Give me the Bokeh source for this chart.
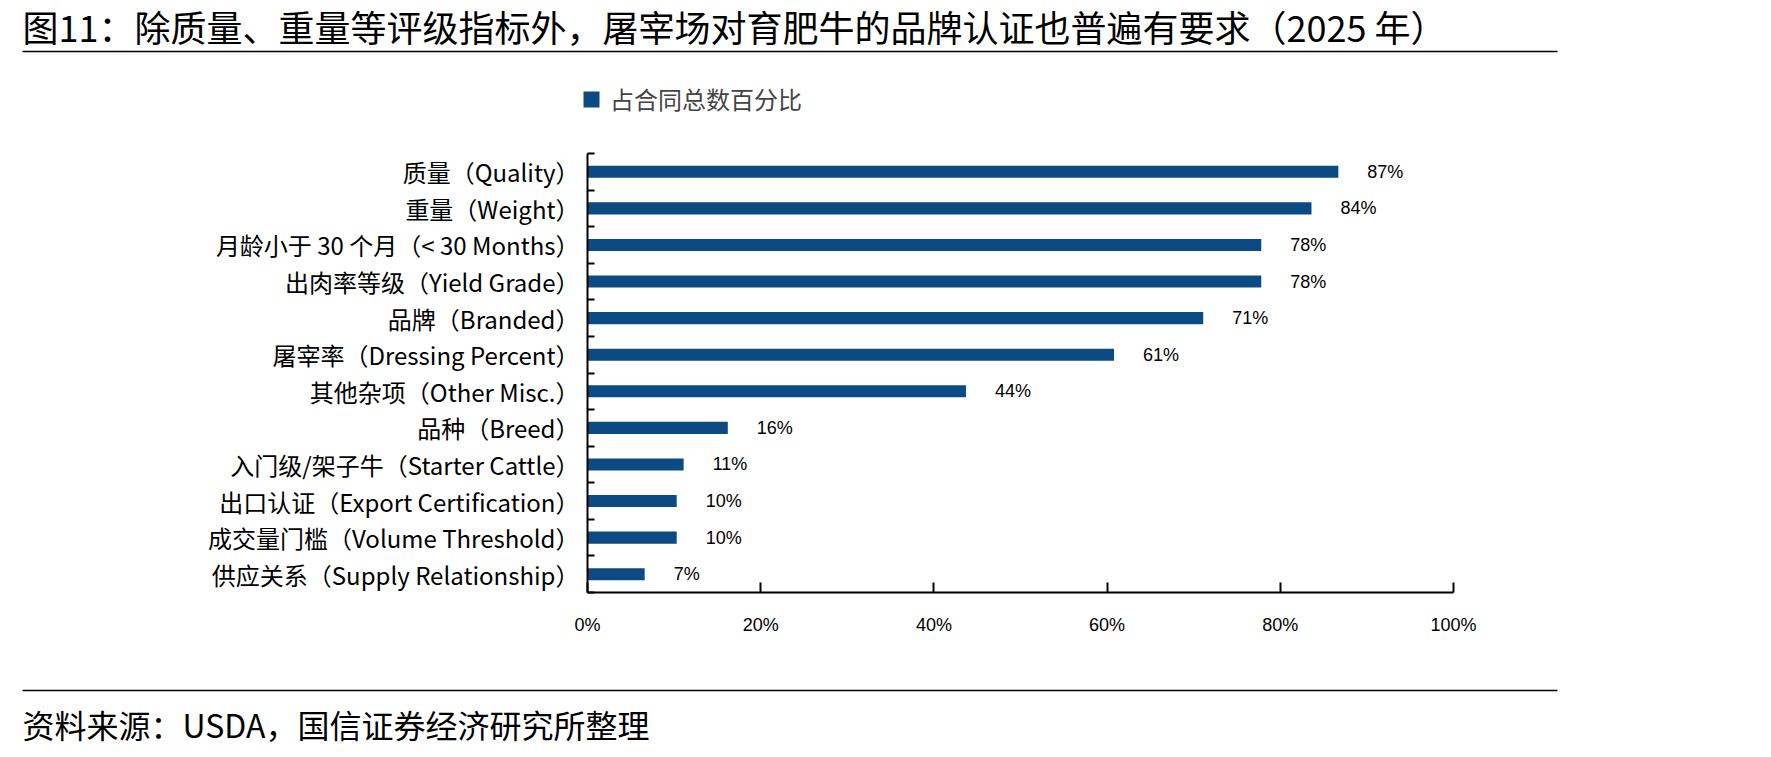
from bokeh.plotting import figure
from bokeh.layouts import column
from bokeh.models import Range1d, FixedTicker, ColumnDataSource, Legend, LegendItem
from bokeh.core.properties import value
from bokeh.embed import file_html
from bokeh.resources import INLINE

# ---------------- data ----------------
categories = [
    "质量（Quality）",
    "重量（Weight）",
    "月龄小于 30 个月（< 30 Months）",
    "出肉率等级（Yield Grade）",
    "品牌（Branded）",
    "屠宰率（Dressing Percent）",
    "其他杂项（Other Misc.）",
    "品种（Breed）",
    "入门级/架子牛（Starter Cattle）",
    "出口认证（Export Certification）",
    "成交量门槛（Volume Threshold）",
    "供应关系（Supply Relationship）",
]
share_pct = [86.7, 83.6, 77.8, 77.8, 71.1, 60.8, 43.7, 16.2, 11.1, 10.3, 10.3, 6.6]
x_ticks = [0, 20, 40, 60, 80, 100]
x_tick_labels = ["0%", "20%", "40%", "60%", "80%", "100%"]
series_name = "占合同总数百分比"
title_text = "图11：除质量、重量等评级指标外，屠宰场对育肥牛的品牌认证也普遍有要求（2025 年）"
source_text = "资料来源：USDA，国信证券经济研究所整理"

# ---------------- layout constants ----------------
W = 1771
TOP_H = 140          # title band (title, rule, legend)
MAIN_H = 540         # chart band
BOT_H = 77           # source band
FL, FR = 587, 1453   # frame left/right pixels
FT, FB = 153, 592    # frame top/bottom pixels (page coordinates)
RULE_L, RULE_R = 22, 1557
BAR_COLOR = "#0B4A82"
CJK = "Noto Sans CJK SC"
LAT = "Liberation Sans"
n = len(categories)
YMAX = 2 * n


def bare_figure(h):
    f = figure(width=W, height=h, x_range=Range1d(0, W), y_range=Range1d(h, 0),
               x_axis_type=None, y_axis_type=None, output_backend="svg",
               toolbar_location=None, min_border=0, frame_align=False)
    f.outline_line_color = None
    f.xgrid.visible = False
    f.ygrid.visible = False
    f.background_fill_color = "white"
    f.border_fill_color = "white"
    return f


# ---------------- top band ----------------
top = bare_figure(TOP_H)
top.text(x=[RULE_L], y=[25], text=[title_text], text_font=value(CJK),
         text_font_size="36px", text_baseline="middle", text_align="left",
         text_color="black")
top.segment(x0=[RULE_L], y0=[51], x1=[RULE_R], y1=[51], line_color="black",
            line_width=1.5)
# legend key renderer (kept outside the visible band, only its swatch is shown)
key = top.hbar(y="y", right="r", left=0, height=1,
               source=ColumnDataSource(dict(y=[-1000], r=[0])),
               fill_color=BAR_COLOR, line_color=None)
legend = Legend(items=[LegendItem(label=series_name, renderers=[key])],
                location=(581, TOP_H - 116), orientation="horizontal",
                glyph_width=20, glyph_height=20, label_standoff=9,
                label_text_font=CJK, label_text_font_size="24px",
                label_height=26, padding=0, margin=0, spacing=0,
                border_line_color=None, background_fill_alpha=0)
top.add_layout(legend, "center")

# ---------------- main chart ----------------
p = figure(width=W, height=MAIN_H, x_range=Range1d(0, 100), y_range=Range1d(0, YMAX),
           output_backend="svg", toolbar_location=None, frame_align=False,
           min_border_left=FL, min_border_right=W - FR,
           min_border_top=FT - TOP_H, min_border_bottom=TOP_H + MAIN_H - FB)
p.outline_line_color = None
p.xgrid.visible = False
p.ygrid.visible = False
p.background_fill_color = "white"
p.border_fill_color = "white"

centers = [YMAX - 1 - 2 * i for i in range(n)]
labels = [f"{round(v)}%" for v in share_pct]
src = ColumnDataSource(dict(y=centers, v=share_pct, lab=labels, cat=categories))

p.hbar(y="y", left=0, right="v", height=0.66, source=src,
       fill_color=BAR_COLOR, line_color=None)
p.text(x="v", y="y", text="lab", source=src, x_offset=29,
       text_align="left", text_baseline="middle",
       text_font=value(LAT), text_font_size="18px", text_color="black")

ya = p.yaxis[0]
ya.ticker = FixedTicker(ticks=centers, minor_ticks=list(range(0, YMAX + 1, 2)))
ya.major_label_overrides = {c: cat for c, cat in zip(centers, categories)}
ya.major_tick_in = 0
ya.major_tick_out = 0
ya.minor_tick_in = 7
ya.minor_tick_out = 0
ya.minor_tick_line_color = "black"
ya.minor_tick_line_width = 2
ya.axis_line_width = 2
ya.axis_line_color = "black"
ya.major_label_standoff = 8
ya.major_label_text_font = CJK
ya.major_label_text_font_size = "24px"
ya.major_label_text_color = "black"

xa = p.xaxis[0]
xa.ticker = FixedTicker(ticks=x_ticks, minor_ticks=[])
xa.major_label_overrides = {t: s for t, s in zip(x_ticks, x_tick_labels)}
xa.major_tick_in = 10
xa.major_tick_out = 0
xa.major_tick_line_width = 2
xa.major_tick_line_color = "black"
xa.minor_tick_in = 0
xa.minor_tick_out = 0
xa.axis_line_width = 2
xa.axis_line_color = "black"
xa.major_label_standoff = 22
xa.major_label_text_font = LAT
xa.major_label_text_font_size = "18px"
xa.major_label_text_color = "black"

# ---------------- bottom band ----------------
bot = bare_figure(BOT_H)
bot.segment(x0=[RULE_L], y0=[10], x1=[RULE_R], y1=[10], line_color="black",
            line_width=1.5)
bot.text(x=[RULE_L], y=[43], text=[source_text], text_font=value(CJK),
         text_font_size="32px", text_baseline="middle", text_align="left",
         text_color="black")

layout = column(top, p, bot, spacing=0)
open("out.html", "w").write(file_html(layout, INLINE))
